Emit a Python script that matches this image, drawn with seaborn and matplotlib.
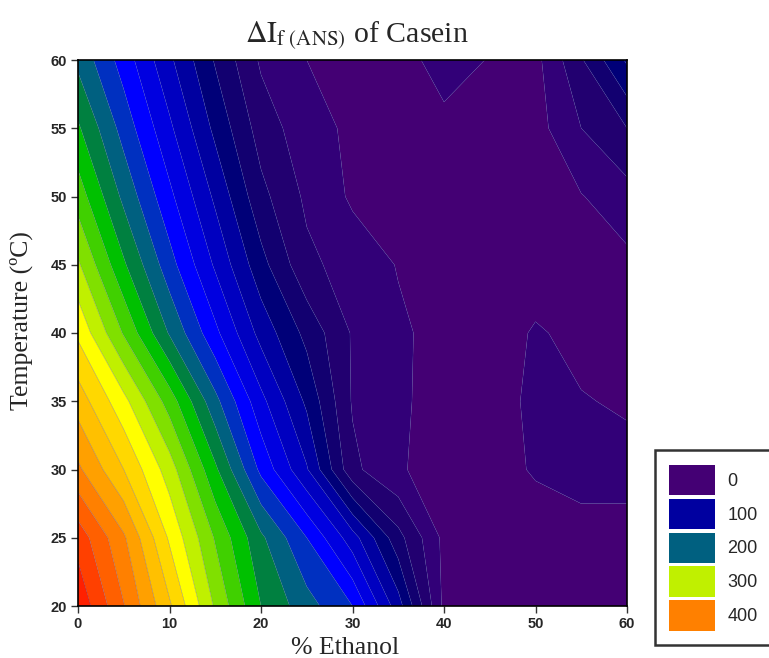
import numpy as np
import matplotlib
matplotlib.use("Agg")
import matplotlib.pyplot as plt
import seaborn as sns
from matplotlib.patches import Patch

# ---- data ----
ethanol = [0, 5, 10, 15, 20, 25, 30, 35, 40, 45, 50, 55, 60]
temperature = [20, 25, 30, 35, 40, 45, 50, 55, 60]
dif_t20 = [475, 421, 363, 297, 240, 208, 180, 109, 15, 10, 8, 10, 10]
dif_t25 = [452, 403, 337, 278, 224, 180, 129, 67, 15, 12, 10, 12, 15]
dif_t30 = [404, 360, 310, 244, 175, 122, 45, 22, 12, 12, 22, 28, 25]
dif_t35 = [371, 326, 271, 206, 146, 96, 38, 23, 13, 10, 25, 21, 18]
dif_t40 = [336, 278, 218, 165, 113, 74, 38, 23, 14, 10, 22, 15, 12]
dif_t45 = [303, 243, 188, 137, 87, 45, 31, 19, 15, 11, 10, 14, 15]
dif_t50 = [271, 215, 165, 116, 66, 36, 17, 12, 14, 12, 12, 19, 32]
dif_t55 = [243, 192, 144, 95, 51, 28, 16, 12, 15, 12, 12, 40, 60]
dif_t60 = [215, 171, 124, 78, 37, 20, 14, 12, 28, 19, 14, 58, 103]
legend_values = [0, 100, 200, 300, 400]
x_ticks = [0, 10, 20, 30, 40, 50, 60]
y_ticks = [20, 25, 30, 35, 40, 45, 50, 55, 60]

Z = np.array([dif_t20, dif_t25, dif_t30, dif_t35, dif_t40,
              dif_t45, dif_t50, dif_t55, dif_t60], dtype=float)

levels = np.arange(0, 500, 20)
band_colors = ['#440074', '#320078', '#220070', '#120070', '#000078',
               '#0000A0', '#0000C0', '#0000E0', '#0000FF', '#0030C0',
               '#006080', '#008040', '#00C000', '#40D000', '#80E000',
               '#C0F000', '#FFFF00', '#FFD800', '#FFC000', '#FFA000',
               '#FF8000', '#FF6000', '#FF4000', '#FF2000']

sns.set_style("ticks")
plt.rcParams['mathtext.fontset'] = 'stix'

fig = plt.figure(figsize=(7.69, 6.58), dpi=100)
ax = fig.add_axes([78 / 769, 52 / 658, 549 / 769, 546 / 658])

X, Y = np.meshgrid(ethanol, temperature)
ax.contourf(X, Y, Z, levels=levels, colors=band_colors, extend='neither',
            antialiased=True)
ax.contour(X, Y, Z, levels=levels[1:], colors='#3a4a9a', linewidths=0.35,
           alpha=0.5)

ax.set_xlim(0, 60)
ax.set_ylim(20, 60)
ax.set_xticks(x_ticks)
ax.set_yticks(y_ticks)
for lab in ax.get_xticklabels() + ax.get_yticklabels():
    lab.set_fontfamily('Liberation Sans')
    lab.set_fontweight('bold')
    lab.set_fontsize(10.5)
ax.tick_params(direction='out', length=5, width=1, color='#333333', pad=3)
for s in ax.spines.values():
    s.set_linewidth(1.2)
    s.set_color('black')

ax.set_xlabel('% Ethanol', fontfamily='Liberation Serif', fontsize=18.5)
ax.xaxis.set_label_coords(0.487, -0.056)
ax.set_ylabel('Temperature (ºC)', fontfamily='Liberation Serif', fontsize=18.5)
ax.yaxis.set_label_coords(-0.082, 0.523)
ax.set_title(r'$\Delta\mathrm{I}_{\mathrm{f\ (ANS)}}$' + ' of Casein',
             fontfamily='Liberation Serif', fontsize=21.5, pad=13, x=0.508)

handles = [Patch(facecolor=band_colors[levels.tolist().index(v)], edgecolor='none')
           for v in legend_values]
leg = fig.legend(handles, [str(v) for v in legend_values],
                 loc='lower left', bbox_to_anchor=(655 / 769, 13 / 658),
                 frameon=True, fancybox=False, edgecolor='black',
                 prop={'family': 'Liberation Sans', 'size': 13},
                 handlelength=2.5, handleheight=2.2, labelspacing=0.2,
                 borderpad=0.8, handletextpad=0.7, borderaxespad=0)
leg.get_frame().set_linewidth(1.8)

fig.savefig('out.png', dpi=100)
